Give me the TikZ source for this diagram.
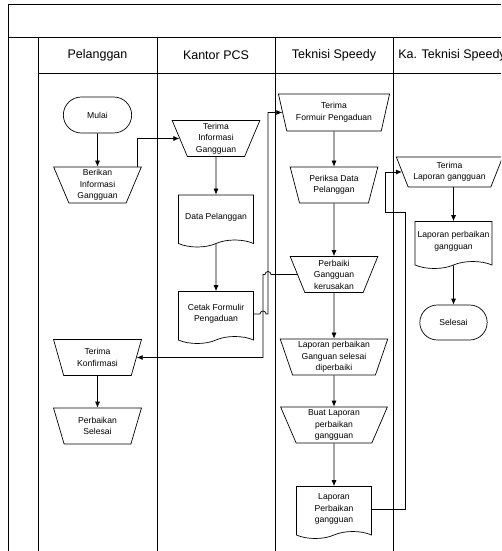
\documentclass[tikz,border=0pt]{standalone}
\usepackage{fontspec}
\setmainfont{Liberation Sans}
\usetikzlibrary{arrows.meta}
\usetikzlibrary{shapes.geometric,shapes.misc,shapes.symbols,positioning,calc}
\tikzset{
	node distance=70pt,
	every node/.style = {align=center, font=\fontsize{8.6}{11.5}\selectfont},
	manual/.style = {draw, trapezium, shape border rotate=180, trapezium angle=71,
		trapezium stretches=true, minimum width=88pt, minimum height=36pt, inner sep=0pt},
	docu/.style = {draw, tape, tape bend top=none, tape bend height=7pt,
		minimum width=75pt, minimum height=52pt, inner sep=1pt},
	term/.style = {draw, rounded rectangle, minimum width=75pt, minimum height=36pt},
	head/.style = {font=\fontsize{12.5}{15}\selectfont},
	flow/.style = {-{Latex[length=6pt,width=5pt]}}
}

\begin{document}
\begin{tikzpicture}[x=1pt,y=-1pt,line width=0.7pt]
	\useasboundingbox (0,0) rectangle (501,551);
	\clip (0,0) rectangle (501,551);
	% swimlanes
	\draw (8,551) -- (8,4) -- (520,4);
	\draw (8,37) -- (520,37);
	\draw (38,37) -- (38,551);
	\draw (38,73) -- (520,73);
	\foreach \x in {157,275,393}
		\draw (\x,37) -- (\x,551);
	\node[head] (hpel) at (97.5,55) {Pelanggan};
	\node[head] (hkan) at (216,55) {Kantor PCS};
	\node[head] (htek) at (334,55) {Teknisi Speedy};
	\node[head] (hka) at (452,55) {Ka. Teknisi Speedy};
	% Pelanggan
	\node[term] (mulai) at (97.5,115) {Mulai};
	\node[manual] (berikan) [below of=mulai] {Berikan\\Informasi\\Gangguan};
	\node[manual] (konf) at (97.5,357.5) {Terima\\Konfirmasi};
	\node[manual] (perbsel) [below of=konf, node distance=68.5pt] {Perbaikan\\Selesai};
	% Kantor PCS
	\node[manual] (tinfo) at (216,138.5) {Terima\\Informasi\\Gangguan};
	\node[docu] (dpel) [below of=tinfo, node distance=79pt] {Data Pelanggan};
	\node[docu] (cetak) [below of=dpel, node distance=96.5pt] {Cetak Formulir\\Pengaduan};
	% Teknisi Speedy
	\node[manual, minimum width=112pt, minimum height=37pt] (tform) at (334,112.5) {Terima\\Formuir Pengaduan};
	\node[manual] (periksa) [below of=tform, node distance=72.5pt] {Periksa Data\\Pelanggan};
	\node[manual] (perbaiki) [below of=periksa, node distance=89.5pt] {Perbaiki\\Gangguan\\kerusakan};
	\node[manual, minimum width=108pt] (lapsel) [below of=perbaiki, node distance=82.5pt] {Laporan perbaikan\\Ganguan selesai\\diperbaiki};
	\node[manual, minimum width=107pt] (buat) [below of=lapsel, node distance=68pt] {Buat Laporan\\perbaikan\\gangguan};
	\node[docu] (lapperb) [below of=buat, node distance=84pt] {Laporan\\Perbaikan\\gangguan};
	% Ka. Teknisi Speedy
	\node[manual, minimum width=107pt, minimum height=30pt, trapezium angle=62] (tlap) at (449.5,172) {Terima\\Laporan gangguan};
	\node[docu, minimum width=77pt, minimum height=47pt] (lapka) [below of=tlap, node distance=69.5pt, xshift=4pt] {Laporan perbaikan\\gangguan};
	\node[term, minimum width=74pt, minimum height=35pt] (selesai) [below of=lapka, node distance=81pt] {Selesai};
	% bends and hops
	\coordinate (busA) at (263,0);
	\coordinate (busB) at (268,0);
	\coordinate (busC) at (405,212);
	\coordinate (busD) at (385,212);
	\draw[flow] (mulai) -- (berikan);
	\draw[flow] ($(berikan.north)+(40,0)$) |- (tinfo.west);
	\draw[flow] (tinfo) -- (dpel);
	\draw[flow] (dpel) -- (cetak);
	\draw[flow] (cetak.east) -- ($(cetak.east -| busA)+(-3,0)$) arc[start angle=180, end angle=360, radius=3]
		-- (cetak.east -| busB) |- (tform.west);
	\draw[flow] (tform) -- (periksa);
	\draw[flow] (periksa) -- (perbaiki);
	\draw[flow] (perbaiki) -- (lapsel);
	\draw[flow] (lapsel) -- (buat);
	\draw[flow] (buat) -- (lapperb);
	\draw[flow] (perbaiki.west) -- ($(perbaiki.west -| busB)+(3,0)$) arc[start angle=0, end angle=-180, radius=3]
		-- (perbaiki.west -| busA) |- (konf.east);
	\draw[flow] (konf) -- (perbsel);
	\draw[flow] (lapperb.east) -| (busC) -- (busD) |- (tlap.west);
	\draw[flow] (tlap.south -| lapka.north) -- (lapka.north);
	\draw[flow] (lapka) -- (selesai);
\end{tikzpicture}
\end{document}
